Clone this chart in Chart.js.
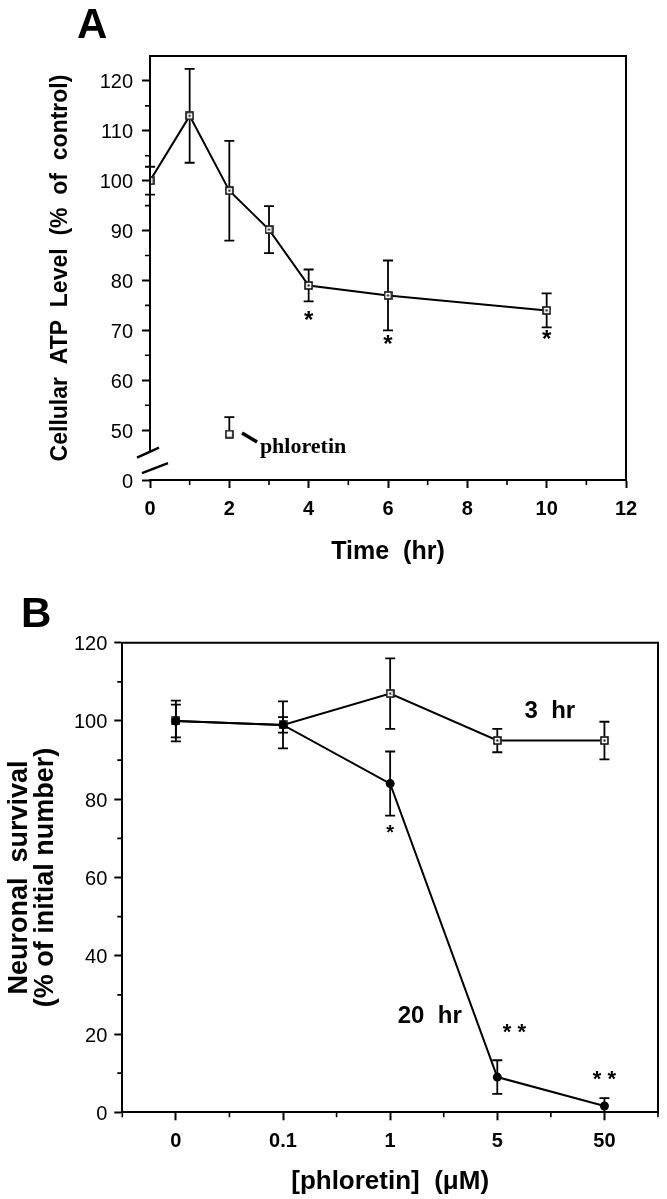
<!DOCTYPE html>
<html>
<head>
<meta charset="utf-8">
<script src="https://cdn.jsdelivr.net/npm/chart.js@4.4.1/dist/chart.umd.min.js"></script>
<style>
  html, body { margin: 0; padding: 0; background: #fff; }
  #wrap { position: relative; width: 667px; height: 1199px; }
  canvas { position: absolute; left: 0; }
  #chartA { top: 0; }
  #chartB { top: 580px; }
</style>
</head>
<body>
<div id="wrap">
  <canvas id="chartA" width="667" height="580"></canvas>
  <canvas id="chartB" width="667" height="619"></canvas>
</div>
<script>
// panel A : cellular ATP vs time
const aTime = [0, 1, 2, 3, 4, 6, 10];
const aAtp = [100, 113, 98, 90.2, 79, 77, 74];
const aErr = [2.8, 9.4, 10, 4.7, 3.2, 7, 3.4];
const aPhlorTime = [2];
const aPhlor = [49.2];
const aPhlorErr = [3.4];
const aXTicks = [0, 2, 4, 6, 8, 10, 12];
const aYTicks = [40, 50, 60, 70, 80, 90, 100, 110, 120];
const aYLabels = ['0', '50', '60', '70', '80', '90', '100', '110', '120'];

// panel B : neuronal survival vs phloretin
const bConc = ['0', '0.1', '1', '5', '50'];
const b3hr = [100, 99, 107, 95, 95];
const b3hrErr = [5.2, 6, 9, 3, 4.8];
const b20hr = [100, 99, 84, 9, 1.6];
const b20hrErr = [4.2, 2, 8.2, 4.3, 2];
const bYTicks = [0, 20, 40, 60, 80, 100, 120];

Chart.defaults.font.family = "'Liberation Sans', Arial, sans-serif";
Chart.defaults.color = '#000';

function squareMarker(dot) {
  const c = document.createElement('canvas');
  c.width = 9; c.height = 9;
  const g = c.getContext('2d');
  g.fillStyle = '#fff';
  g.fillRect(0.5, 0.5, 8, 8);
  g.strokeStyle = '#000';
  g.lineWidth = 1.5;
  g.strokeRect(1, 1, 7, 7);
  if (dot) {
    g.fillStyle = '#000';
    g.fillRect(3.5, 3.5, 2, 2);
  }
  return c;
}
const sqDot = squareMarker(true);
const sqOpen = squareMarker(false);

const errorBars = {
  id: 'errorBars',
  beforeDatasetsDraw(chart) {
    const ctx = chart.ctx;
    chart.data.datasets.forEach((ds, i) => {
      if (!ds.errors) return;
      const meta = chart.getDatasetMeta(i);
      const ys = chart.scales[meta.yAxisID];
      ctx.save();
      ctx.strokeStyle = '#000';
      ctx.lineWidth = 1.8;
      meta.data.forEach((pt, j) => {
        const raw = ds.data[j];
        const v = typeof raw === 'object' ? raw.y : raw;
        const e = ds.errors[j];
        const top = ys.getPixelForValue(v + e);
        const bot = ds.upperOnly ? pt.y : ys.getPixelForValue(Math.max(v - e, ys.min));
        ctx.beginPath();
        ctx.moveTo(pt.x, top); ctx.lineTo(pt.x, bot);
        ctx.moveTo(pt.x - 5, top); ctx.lineTo(pt.x + 5, top);
        if (!ds.upperOnly && v - e > ys.min) {
          ctx.moveTo(pt.x - 5, bot); ctx.lineTo(pt.x + 5, bot);
        }
        ctx.stroke();
      });
      ctx.restore();
    });
  }
};

// box, minor ticks, axis break, notes and panel letter
const frame = {
  id: 'frame',
  afterDraw(chart, args, opts) {
    const {ctx, chartArea: a, scales} = chart;
    const xs = scales.x, ys = scales.y;
    ctx.save();
    ctx.strokeStyle = '#000';
    ctx.fillStyle = '#000';
    ctx.lineWidth = 2;
    ctx.beginPath();
    ctx.moveTo(a.left - 1, a.top);
    ctx.lineTo(a.right, a.top);
    ctx.lineTo(a.right, a.bottom + 1);
    if (opts.leftTo != null) {
      ctx.moveTo(a.left, a.top);
      ctx.lineTo(a.left, ys.getPixelForValue(opts.leftTo));
    }
    ctx.stroke();

    ctx.lineWidth = 1.6;
    ctx.beginPath();
    (opts.minorX || []).forEach(v => {
      const px = xs.getPixelForValue(v);
      ctx.moveTo(px, a.bottom); ctx.lineTo(px, a.bottom + 5);
    });
    (opts.minorY || []).forEach(v => {
      const py = ys.getPixelForValue(v);
      ctx.moveTo(a.left, py); ctx.lineTo(a.left - 5, py);
    });
    ctx.stroke();

    if (opts.breaks) {
      ctx.lineWidth = 2.4;
      ctx.beginPath();
      opts.breaks.forEach(b => {
        ctx.moveTo(a.left + b[0], ys.getPixelForValue(b[1]));
        ctx.lineTo(a.left + b[2], ys.getPixelForValue(b[3]));
      });
      ctx.stroke();
    }

    if (opts.connector) {
      const c = opts.connector;
      ctx.lineWidth = 3.5;
      ctx.beginPath();
      ctx.moveTo(xs.getPixelForValue(c[0]), ys.getPixelForValue(c[1]));
      ctx.lineTo(xs.getPixelForValue(c[2]), ys.getPixelForValue(c[3]));
      ctx.stroke();
    }

    (opts.notes || []).forEach(n => {
      ctx.font = n.font;
      ctx.textAlign = n.align || 'center';
      ctx.textBaseline = 'middle';
      ctx.fillText(n.text, xs.getPixelForValue(n.x), ys.getPixelForValue(n.y) + (n.dy || 0));
    });

    if (opts.letter) {
      ctx.font = "bold 42px 'Liberation Sans', Arial, sans-serif";
      ctx.textAlign = 'left';
      ctx.textBaseline = 'alphabetic';
      ctx.fillText(opts.letter.text, opts.letter.x, opts.letter.y);
    }
    ctx.restore();
  }
};

const gridOpts = { display: true, drawOnChartArea: false, drawTicks: true, tickLength: 8, tickWidth: 2, tickColor: '#000', offset: false };
const starFont = s => 'bold ' + s + "px 'Liberation Sans', Arial, sans-serif";

new Chart(document.getElementById('chartA'), {
  type: 'line',
  data: {
    datasets: [
      {
        data: aTime.map((t, i) => ({x: t, y: aAtp[i]})),
        errors: aErr,
        borderColor: '#000', borderWidth: 2, tension: 0,
        pointStyle: sqDot, pointRadius: 5
      },
      {
        data: aPhlorTime.map((t, i) => ({x: t, y: aPhlor[i]})),
        errors: aPhlorErr, upperOnly: true,
        showLine: false, borderColor: '#000',
        pointStyle: sqOpen, pointRadius: 5
      }
    ]
  },
  options: {
    responsive: false,
    animation: false,
    layout: { padding: { top: 56, right: 41, left: 0, bottom: 0 } },
    plugins: {
      legend: { display: false },
      tooltip: { enabled: false },
      frame: {
        leftTo: 45.8,
        minorX: [1, 3, 5, 7, 9, 11],
        minorY: [55, 65, 75, 85, 95, 105, 115],
        breaks: [[-13, 44.5, 9, 46.5], [-8, 41.4, 18, 43.4]],
        connector: [2.32, 49.4, 2.7, 47.6],
        notes: [
          {text: '*', x: 4, y: 73, font: starFont(24), dy: 5.5},
          {text: '*', x: 6, y: 68, font: starFont(24), dy: 5.5},
          {text: '*', x: 10, y: 69, font: starFont(24), dy: 5.5},
          {text: 'phloretin', x: 2.77, y: 46.6, align: 'left', font: "bold 22px 'Liberation Serif', 'Times New Roman', serif"}
        ],
        letter: {text: 'A', x: 77, y: 38}
      }
    },
    scales: {
      x: {
        type: 'linear', min: 0, max: 12,
        afterBuildTicks: s => { s.ticks = aXTicks.map(v => ({value: v})); },
        afterFit: s => { s.height = 100; },
        grid: gridOpts,
        border: { display: true, color: '#000', width: 2 },
        ticks: { padding: 9, font: { size: 20, weight: 'bold' }, maxRotation: 0 },
        title: { display: true, text: 'Time  (hr)', font: { size: 25, weight: 'bold' }, padding: { top: 0, bottom: 13 } }
      },
      y: {
        type: 'linear', min: 40, max: 125,
        afterBuildTicks: s => { s.ticks = aYTicks.map(v => ({value: v})); },
        afterFit: s => { s.width = 150; },
        grid: gridOpts,
        border: { display: false },
        ticks: { padding: 9, labelOffset: 2, font: { size: 20 }, callback: (v, i) => aYLabels[i] },
        title: { display: true, text: 'Cellular  ATP  Level  (%  of  control)', font: { size: 23, weight: 'bold' }, padding: { top: 47, bottom: 0 } }
      }
    }
  },
  plugins: [errorBars, frame]
});

new Chart(document.getElementById('chartB'), {
  type: 'line',
  data: {
    labels: bConc,
    datasets: [
      {
        label: '20 hr', data: b20hr, errors: b20hrErr,
        borderColor: '#000', backgroundColor: '#000', borderWidth: 2, tension: 0,
        pointStyle: 'circle', pointRadius: 4.5, pointBorderWidth: 0
      },
      {
        label: '3 hr', data: b3hr, errors: b3hrErr,
        borderColor: '#000', borderWidth: 2, tension: 0,
        pointStyle: sqDot, pointRadius: 5
      }
    ]
  },
  options: {
    responsive: false,
    animation: false,
    layout: { padding: { top: 62.7, right: 9, left: 0, bottom: 0 } },
    plugins: {
      legend: { display: false },
      tooltip: { enabled: false },
      frame: {
        minorX: [-0.5, 0.5, 1.5, 2.5, 3.5, 4.5],
        minorY: [10, 30, 50, 70, 90, 110],
        notes: [
          {text: '3  hr', x: 3.49, y: 102.4, font: starFont(24)},
          {text: '20  hr', x: 2.37, y: 24.4, font: starFont(24)},
          {text: '*', x: 2, y: 72.5, font: starFont(20), dy: 4.6},
          {text: '* *', x: 3.16, y: 21.5, font: starFont(22), dy: 5},
          {text: '* *', x: 4, y: 9.6, font: starFont(22), dy: 5}
        ],
        letter: {text: 'B', x: 21, y: 47}
      }
    },
    scales: {
      x: {
        type: 'category', offset: true,
        afterFit: s => { s.height = 86.7; },
        grid: gridOpts,
        border: { display: true, color: '#000', width: 2 },
        ticks: { padding: 9, font: { size: 20, weight: 'bold' }, maxRotation: 0, autoSkip: false },
        title: { display: true, text: '[phloretin]  (\u03BCM)', font: { size: 26, weight: 'bold' }, padding: { top: 0, bottom: 2 } }
      },
      y: {
        type: 'linear', min: 0, max: 120,
        afterBuildTicks: s => { s.ticks = bYTicks.map(v => ({value: v})); },
        afterFit: s => { s.width = 122.3; },
        grid: gridOpts,
        border: { display: true, color: '#000', width: 2 },
        ticks: { padding: 7, labelOffset: 2, font: { size: 20 } },
        title: {
          display: true,
          text: ['Neuronal  survival', '(% of initial number)'],
          font: { size: 27, weight: 'bold', lineHeight: 0.95 },
          padding: { top: 7, bottom: 0 }
        }
      }
    }
  },
  plugins: [errorBars, frame]
});
</script>
</body>
</html>
